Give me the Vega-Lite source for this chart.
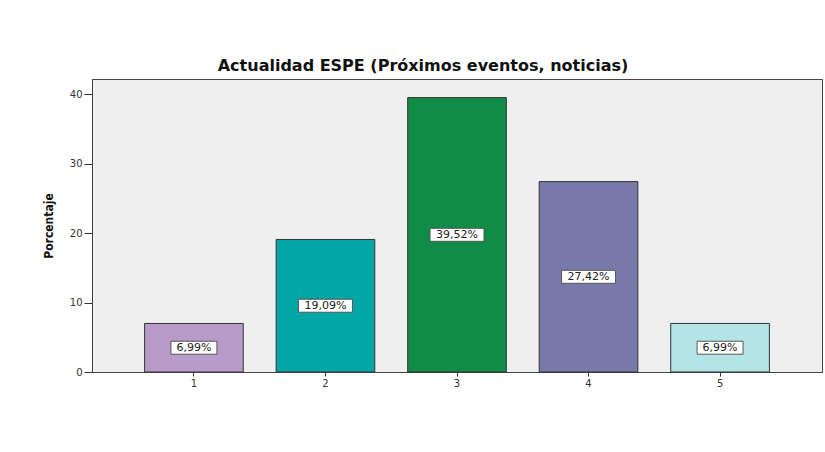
{
  "$schema": "https://vega.github.io/schema/vega-lite/v6.json",
  "width": 730,
  "height": 293,
  "autosize": "none",
  "padding": {"left": 92, "top": 79, "right": 3, "bottom": 80},
  "background": "white",
  "title": {
    "text": "Actualidad ESPE (Próximos eventos, noticias)",
    "font": "DejaVu Sans",
    "fontSize": 16,
    "fontWeight": "bold",
    "color": "#111111",
    "anchor": "middle",
    "dx": -34,
    "offset": 5
  },
  "data": {
    "values": [
      {"respuesta": "1", "pct": 6.99},
      {"respuesta": "2", "pct": 19.09},
      {"respuesta": "3", "pct": 39.52},
      {"respuesta": "4", "pct": 27.42},
      {"respuesta": "5", "pct": 6.99}
    ]
  },
  "transform": [
    {"calculate": "datum.pct / 2", "as": "mitad"},
    {"calculate": "replace(format(datum.pct, '.2f'), '.', ',') + '%'", "as": "etiqueta"}
  ],
  "encoding": {
    "x": {
      "field": "respuesta",
      "type": "ordinal",
      "scale": {"paddingInner": 0.25, "paddingOuter": 0.4},
      "axis": {
        "title": null,
        "labelAngle": 0,
        "labelFont": "DejaVu Sans",
        "labelFontSize": 10,
        "labelColor": "#333333",
        "tickSize": 4,
        "tickColor": "#333333",
        "domainColor": "#444444",
        "labelPadding": 2
      }
    }
  },
  "layer": [
    {
      "mark": {"type": "bar", "stroke": "#333333", "strokeWidth": 1},
      "encoding": {
        "y": {
          "field": "pct",
          "type": "quantitative",
          "scale": {"domain": [0, 42.2], "nice": false},
          "axis": {
            "title": "Porcentaje",
            "titleFont": "Liberation Sans Narrow, DejaVu Sans Condensed, sans-serif",
            "titleFontSize": 12,
            "titleFontWeight": "bold",
            "titleColor": "#111111",
            "titlePadding": 14,
            "values": [0, 10, 20, 30, 40],
            "grid": false,
            "labelFont": "DejaVu Sans",
            "labelFontSize": 10,
            "labelColor": "#333333",
            "tickSize": 8,
            "tickColor": "#333333",
            "domainColor": "#444444",
            "labelPadding": 2
          }
        },
        "color": {
          "field": "respuesta",
          "type": "nominal",
          "scale": {
            "domain": ["1", "2", "3", "4", "5"],
            "range": ["#B89BC9", "#00A5A5", "#118C46", "#7879A8", "#B3E5E6"]
          },
          "legend": null
        }
      }
    },
    {
      "mark": {
        "type": "point",
        "filled": true,
        "fill": "white",
        "stroke": "#555555",
        "strokeWidth": 1,
        "opacity": 1,
        "size": 400
      },
      "encoding": {
        "y": {"field": "mitad", "type": "quantitative"},
        "shape": {
          "condition": {"test": "datum.pct < 10", "value": "M-2.3,-0.65H2.3V0.65H-2.3Z"},
          "value": "M-2.7,-0.65H2.7V0.65H-2.7Z"
        }
      }
    },
    {
      "mark": {
        "type": "text",
        "font": "DejaVu Sans",
        "fontSize": 11,
        "color": "#222222",
        "baseline": "middle",
        "align": "center",
        "dy": 0.5
      },
      "encoding": {
        "y": {"field": "mitad", "type": "quantitative"},
        "text": {"field": "etiqueta"}
      }
    }
  ],
  "config": {
    "view": {"fill": "#EFEFEF", "stroke": "#444444", "strokeWidth": 1}
  }
}
